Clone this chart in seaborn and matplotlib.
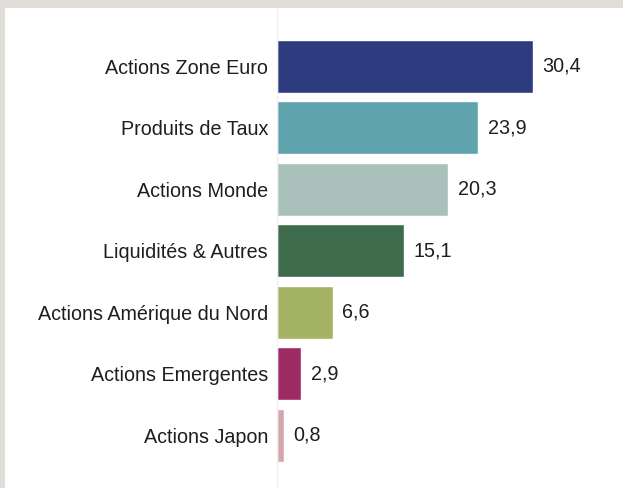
import matplotlib
matplotlib.use('Agg')
from matplotlib import pyplot as plt
from matplotlib.patches import Rectangle
import pandas as pd
import seaborn as sns

categories = ["Actions Zone Euro", "Produits de Taux", "Actions Monde",
              "Liquidités & Autres", "Actions Amérique du Nord",
              "Actions Emergentes", "Actions Japon"]
values = [30.4, 23.9, 20.3, 15.1, 6.6, 2.9, 0.8]
colors = ["#2e3c7f", "#5fa3ad", "#aac1bb", "#3d6b4b", "#a5b365", "#9c2b63", "#d2a7ad"]

df = pd.DataFrame({"cat": categories, "val": values})

sns.set_style("white")
plt.rcParams['font.family'] = ['Liberation Sans', 'DejaVu Sans']

fig = plt.figure(figsize=(6.23, 4.88), dpi=100)
fig.patch.set_facecolor("#e1ddd8")
# white panel inside the grey frame
fig.patches.append(Rectangle((5 / 623, 0), 1, 480 / 488, transform=fig.transFigure,
                             facecolor="white", edgecolor="none", zorder=-10))

ax = fig.add_axes([277 / 623, 0, 346 / 623, 480 / 488])
ax.set_zorder(5)
ax.set_facecolor("none")
sns.barplot(data=df, x="val", y="cat", hue="cat", palette=colors, legend=False,
            width=0.855, saturation=1, ax=ax)

ax.set_xlim(0, 41.1)
ax.set_ylim(6.858, -0.947)
ax.set_xlabel("")
ax.set_ylabel("")
ax.set_xticks([])
ax.tick_params(axis="y", length=0, pad=6.5, labelsize=14.2, labelcolor="#1e1e1e")
for s in ["top", "right", "bottom"]:
    ax.spines[s].set_visible(False)
ax.spines["left"].set_color("#f0f0f0")
ax.spines["left"].set_linewidth(1)

for i, v in enumerate(values):
    ax.annotate(f"{v:.1f}".replace(".", ","), (v, i), xytext=(7.0, 0),
                textcoords="offset points", va="center", ha="left",
                fontsize=14.2, color="#1e1e1e")

plt.savefig("out.png", dpi=100)
